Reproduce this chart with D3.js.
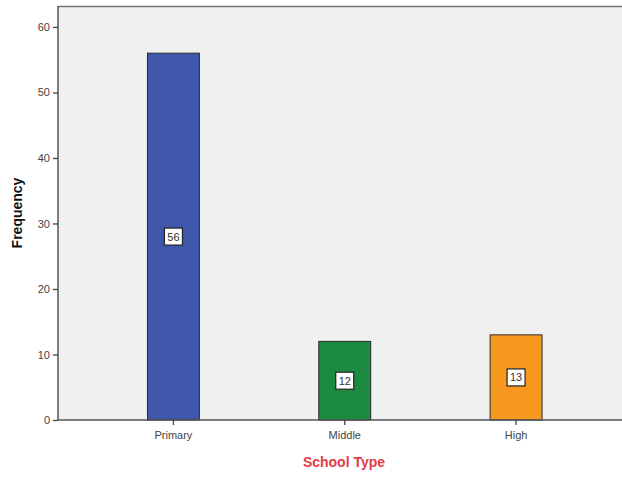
<!DOCTYPE html>
<html>
<head>
<meta charset="utf-8">
<script src="https://cdn.jsdelivr.net/npm/d3@7"></script>
<style>
  html, body { margin: 0; padding: 0; background: #ffffff; }
  svg { display: block; font-family: Arial, "Liberation Sans", sans-serif; }
</style>
</head>
<body>
<svg id="chart" width="622" height="477"></svg>
<script>
// School type frequencies
const categories = ["Primary", "Middle", "High"];
const frequencies = [56, 12, 13];
const barColors = ["#3f57ab", "#1c8a40", "#f7981f"];
const yTicks = [0, 10, 20, 30, 40, 50, 60];

const svg = d3.select("#chart");
const plot = { left: 58, top: 6, right: 622, bottom: 420 };

const y = d3.scaleLinear().domain([0, 63.2]).range([plot.bottom, plot.top]);
const x = d3.scaleBand().domain(categories).range([87.5, 602]).paddingInner(0.697).paddingOuter(0.35);

// plot background
svg.append("rect")
  .attr("x", plot.left).attr("y", plot.top)
  .attr("width", plot.right - plot.left).attr("height", plot.bottom - plot.top)
  .attr("fill", "#f0f0f0");

// top frame line
svg.append("line")
  .attr("x1", plot.left).attr("x2", plot.right)
  .attr("y1", plot.top + 0.5).attr("y2", plot.top + 0.5)
  .attr("stroke", "#777").attr("stroke-width", 1.5);

// bars
svg.append("g").selectAll("rect")
  .data(categories)
  .join("rect")
  .attr("x", d => x(d))
  .attr("width", x.bandwidth())
  .attr("y", (d, i) => y(frequencies[i]))
  .attr("height", (d, i) => y(0) - y(frequencies[i]))
  .attr("fill", (d, i) => barColors[i])
  .attr("stroke", "#2a2a2a")
  .attr("stroke-width", 1);

// value labels in boxes at half height
const lbl = svg.append("g").selectAll("g")
  .data(categories)
  .join("g")
  .attr("transform", (d, i) => `translate(${x(d) + x.bandwidth() / 2},${y(frequencies[i] / 2)})`);
lbl.append("rect")
  .attr("x", -9).attr("y", -8.5).attr("width", 18).attr("height", 17)
  .attr("fill", "#ffffff").attr("stroke", "#222").attr("stroke-width", 1.2);
lbl.append("text")
  .attr("text-anchor", "middle").attr("dy", "0.36em")
  .attr("font-size", 11).attr("fill", "#333")
  .text((d, i) => frequencies[i]);

// y axis
const yAxis = svg.append("g")
  .attr("transform", `translate(${plot.left},0)`)
  .call(d3.axisLeft(y).tickValues(yTicks).tickSize(5).tickPadding(3));
yAxis.select(".domain").attr("stroke", "#555").attr("stroke-width", 1.5)
  .attr("d", `M0,${plot.bottom}V${plot.top}`);
yAxis.selectAll(".tick line").attr("stroke", "#444").attr("stroke-width", 1.3);
yAxis.selectAll(".tick text").attr("font-size", 11).attr("fill", "#444")
  .attr("font-family", "Arial, 'Liberation Sans', sans-serif");

// x axis
const xAxis = svg.append("g")
  .attr("transform", `translate(0,${plot.bottom})`)
  .call(d3.axisBottom(x).tickSize(5).tickPadding(6));
xAxis.select(".domain").attr("stroke", "#555").attr("stroke-width", 1.5)
  .attr("d", `M${plot.left},0H${plot.right}`);
xAxis.selectAll(".tick line").attr("stroke", "#444").attr("stroke-width", 1.3);
xAxis.selectAll(".tick text").attr("font-size", 11).attr("fill", "#444")
  .attr("font-family", "Arial, 'Liberation Sans', sans-serif");

// axis titles
svg.append("text")
  .attr("transform", `translate(22,${(plot.top + plot.bottom) / 2}) rotate(-90)`)
  .attr("text-anchor", "middle")
  .attr("font-size", 14).attr("font-weight", "bold").attr("fill", "#111")
  .text("Frequency");

svg.append("text")
  .attr("x", 344).attr("y", 467)
  .attr("text-anchor", "middle")
  .attr("font-size", 14).attr("font-weight", "bold").attr("fill", "#e23a48")
  .text("School Type");
</script>
</body>
</html>
